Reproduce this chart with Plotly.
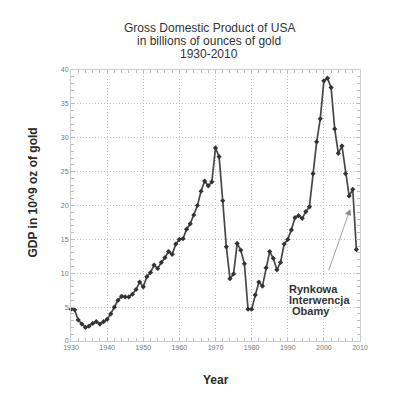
import plotly.graph_objects as go

years = list(range(1930, 2010))
gdp_gold = [
    4.7, 4.6, 3.1, 2.5, 2.0, 2.2, 2.6, 2.85, 2.5, 2.85,
    3.2, 4.0, 5.0, 6.0, 6.6, 6.5, 6.5, 6.9, 7.6, 8.7,
    8.0, 9.5, 10.1, 11.2, 10.7, 11.6, 12.3, 13.2, 12.8, 14.3,
    15.0, 15.1, 16.5, 17.3, 18.6, 20.0, 22.1, 23.6, 22.9, 23.5,
    28.5, 27.2, 20.7, 13.9, 9.2, 9.9, 14.4, 13.4, 11.4, 4.7,
    4.7, 6.8, 8.7, 8.1, 10.8, 13.2, 12.2, 10.5, 11.6, 14.3,
    15.0, 16.4, 18.2, 18.5, 18.1, 19.1, 19.8, 24.7, 29.4, 32.8,
    38.4, 38.8, 37.4, 31.3, 27.7, 28.8, 24.7, 21.4, 22.4, 13.5,
]

title_lines = ["Gross Domestic Product of USA", "in billions of ounces of gold", "1930-2010"]
note_lines = ["Rynkowa", "Interwencja", " Obamy"]
x_ticks = list(range(1930, 2011, 10))
y_ticks = list(range(0, 41, 5))

FONT = "Liberation Sans, Arial, Helvetica, sans-serif"

fig = go.Figure()
fig.add_trace(go.Scatter(
    x=years, y=gdp_gold, mode="lines+markers",
    line=dict(color="#474747", width=1.7),
    marker=dict(symbol="diamond", size=4, color="#333333"),
    cliponaxis=False, showlegend=False,
))

axis_common = dict(
    showline=True, linecolor="#cccccc", linewidth=1, mirror="allticks",
    ticks="inside", ticklen=4, tickcolor="#bbbbbb",
    showgrid=True, gridcolor="#c4c4c4", griddash="1px,2px", gridwidth=1,
    zeroline=False,
    tickfont=dict(family=FONT, size=7, color="#777777"),
)

fig.update_xaxes(range=[1930, 2010], tickvals=x_ticks,
                 minor=dict(dtick=2, ticks="inside", ticklen=3, tickcolor="#bbbbbb", showgrid=False),
                 **axis_common)
fig.update_yaxes(range=[0, 40], tickvals=y_ticks,
                 minor=dict(dtick=1, ticks="inside", ticklen=3, tickcolor="#bbbbbb", showgrid=False),
                 **axis_common)

# Screen geometry of the plot area (page body adds an 8px offset)
plot_top, plot_bottom, plot_left, plot_right = 70, 341, 71, 360

def py(y):
    return (plot_bottom - y) / (plot_bottom - plot_top)

def px(x):
    return (x - plot_left) / (plot_right - plot_left)

annotations = []
for line, ypix in zip(title_lines, [28.5, 41, 53.5]):
    annotations.append(dict(text=line, xref="paper", yref="paper", x=px(209), y=py(ypix),
                            xanchor="center", yanchor="middle", showarrow=False,
                            font=dict(family=FONT, size=12, color="#333333")))

annotations.append(dict(text="GDP in 10^9 oz of gold", xref="paper", yref="paper",
                        x=px(32), y=py(192.5), xanchor="center", yanchor="middle",
                        textangle=-90, showarrow=False,
                        font=dict(family=FONT, size=12, color="#2a2a2a", weight="bold")))
annotations.append(dict(text="Year", xref="paper", yref="paper",
                        x=px(216), y=py(380), xanchor="center", yanchor="middle",
                        showarrow=False,
                        font=dict(family=FONT, size=12, color="#2a2a2a", weight="bold")))

for line, ypix in zip(note_lines, [289, 300, 311]):
    annotations.append(dict(text=line, xref="paper", yref="paper", x=px(287), y=py(ypix),
                            xanchor="left", yanchor="middle", showarrow=False,
                            font=dict(family=FONT, size=11, color="#333333", weight="bold")))

annotations.append(dict(text="", x=2007.3, y=19.5, ax=2001.2, ay=10.2,
                        xref="x", yref="y", axref="x", ayref="y",
                        showarrow=True, arrowhead=2, arrowsize=1.6, arrowwidth=0.8,
                        arrowcolor="#8a8a8a"))

fig.update_layout(
    width=392, height=387,
    margin=dict(l=63, r=40, t=62, b=54),
    paper_bgcolor="white", plot_bgcolor="white",
    annotations=annotations,
    font=dict(family=FONT),
)

fig.write_html("out.html")
